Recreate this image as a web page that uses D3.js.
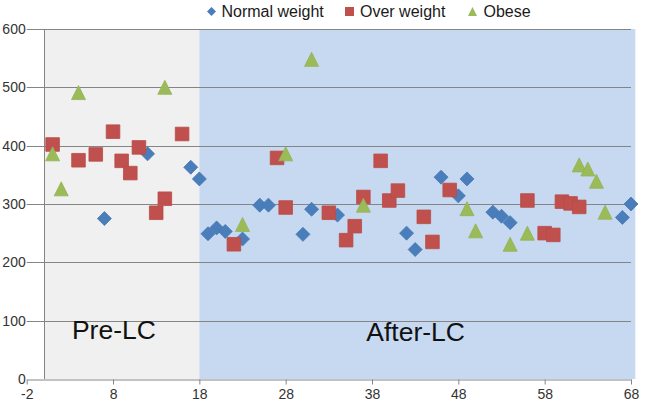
<!DOCTYPE html>
<html>
<head>
<meta charset="utf-8">
<script src="https://cdn.jsdelivr.net/npm/d3@7"></script>
<style>
  html, body { margin: 0; padding: 0; background: #ffffff; }
  svg { display: block; font-family: "Liberation Sans", Arial, sans-serif; }
</style>
</head>
<body>
<svg id="chart" width="645" height="409"></svg>
<script>
// ---- data ----
const seriesNames = ["Normal weight", "Over weight", "Obese"];
const normalX = [7, 12, 17, 18, 19, 20, 21, 23, 25, 26, 30, 31, 34, 42, 43, 46, 48, 49, 52, 53, 54, 67, 68];
const normalY = [275, 386, 363, 343, 249, 259, 253, 240, 298, 298, 248, 291, 281, 250, 222, 346, 314, 343, 286, 279, 268, 277, 300];
const overX = [1, 4, 6, 8, 9, 10, 11, 13, 14, 16, 22, 27, 28, 33, 35, 36, 37, 39, 40, 41, 44, 45, 47, 56, 58, 59, 60, 61, 62];
const overY = [402, 375, 385, 424, 374, 353, 397, 285, 309, 420, 231, 379, 294, 285, 238, 262, 312, 374, 306, 323, 278, 235, 324, 306, 250, 247, 304, 301, 295];
const obeseX = [1, 2, 4, 14, 23, 28, 31, 37, 49, 50, 54, 56, 62, 63, 64, 65];
const obeseY = [386, 326, 491, 500, 265, 386, 548, 298, 292, 254, 231, 250, 367, 360, 339, 286];
const phaseNames = ["Pre-LC", "After-LC"];
const phaseStart = [0, 18];
const phaseEnd = [18, 68.5];
const xTicks = [-2, 8, 18, 28, 38, 48, 58, 68];
const yTicks = [0, 100, 200, 300, 400, 500, 600];

// ---- scales ----
const x = d3.scaleLinear().domain([-2, 68]).range([26.7, 631]);
const y = d3.scaleLinear().domain([0, 600]).range([379, 29]);

const svg = d3.select("#chart");
const colors = ["#4a7ebb", "#c0504d", "#9bbb59"];
const strokes = ["#4677b4", "#b94b48", "#93b254"];
const phaseFill = ["#f0f0f0", "#c6d9f0"];

// shaded phases
svg.append("g").selectAll("rect")
  .data(phaseNames.map((n, i) => ({ n, s: phaseStart[i], e: phaseEnd[i], i })))
  .join("rect")
  .attr("x", d => x(d.s))
  .attr("width", d => x(d.e) - x(d.s))
  .attr("y", y(600))
  .attr("height", y(0) - y(600))
  .attr("fill", d => phaseFill[d.i]);

// gridlines
svg.append("g").selectAll("line")
  .data(yTicks.filter(t => t > 0))
  .join("line")
  .attr("x1", x(-2)).attr("x2", x(68))
  .attr("y1", d => Math.round(y(d)) + 0.5).attr("y2", d => Math.round(y(d)) + 0.5)
  .attr("stroke", "#858585").attr("stroke-width", 1.1);

// x axis
const xAxis = svg.append("g")
  .attr("transform", `translate(0,${Math.round(y(0)) + 0.5})`)
  .call(d3.axisBottom(x).tickValues(xTicks).tickFormat(d => String(d)).tickSize(5).tickSizeOuter(0).tickPadding(5));
xAxis.select(".domain").attr("stroke", "#858585");
xAxis.selectAll(".tick line").attr("stroke", "#858585");
xAxis.selectAll(".tick text").attr("font-size", 14).attr("fill", "#333333")
  .attr("font-family", "'Liberation Sans', Arial, sans-serif");

// y axis line at x = 0
svg.append("line")
  .attr("x1", Math.round(x(0)) + 0.5).attr("x2", Math.round(x(0)) + 0.5)
  .attr("y1", y(600)).attr("y2", y(0))
  .attr("stroke", "#858585").attr("stroke-width", 1);

// y tick labels
const yAxis = svg.append("g")
  .attr("transform", `translate(${x(-2)},0)`)
  .call(d3.axisLeft(y).tickValues(yTicks).tickFormat(d => String(d)).tickSize(0).tickPadding(1));
yAxis.select(".domain").remove();
yAxis.selectAll(".tick text").attr("font-size", 14).attr("fill", "#333333")
  .attr("font-family", "'Liberation Sans', Arial, sans-serif");

// phase labels
svg.append("text").attr("x", x(8.1)).attr("y", 339).attr("text-anchor", "middle")
  .attr("font-size", 26.5).attr("fill", "#111").text(phaseNames[0]);
svg.append("text").attr("x", x(43.05)).attr("y", 341).attr("text-anchor", "middle")
  .attr("font-size", 26.5).attr("fill", "#111").text(phaseNames[1]);

// marker shapes
const shapes = [
  s => `M0,${-s}L${s},0L0,${s}L${-s},0Z`,
  s => `M${-s},${-s}H${s}V${s}H${-s}Z`,
  s => `M0,${-s}L${s},${s}L${-s},${s}Z`
];
const sizes = [7, 6.8, 7];

const series = [
  normalX.map((v, i) => [v, normalY[i]]),
  overX.map((v, i) => [v, overY[i]]),
  obeseX.map((v, i) => [v, obeseY[i]])
];

series.forEach((pts, si) => {
  svg.append("g").selectAll("path")
    .data(pts)
    .join("path")
    .attr("transform", d => `translate(${x(d[0])},${y(d[1])})`)
    .attr("d", shapes[si](sizes[si]))
    .attr("fill", colors[si])
    .attr("stroke", strokes[si])
    .attr("stroke-width", 0.8);
});

// legend
const legX = [211.5, 349.5, 472.5];
const legTextX = [221.5, 360, 483.5];
const leg = svg.append("g");
seriesNames.forEach((n, i) => {
  leg.append("path")
    .attr("transform", `translate(${legX[i]},11.5)`)
    .attr("d", shapes[i](4.5))
    .attr("fill", colors[i]);
  leg.append("text")
    .attr("x", legTextX[i]).attr("y", 17)
    .attr("font-size", 16).attr("fill", "#1a1a1a")
    .text(n);
});
</script>
</body>
</html>
